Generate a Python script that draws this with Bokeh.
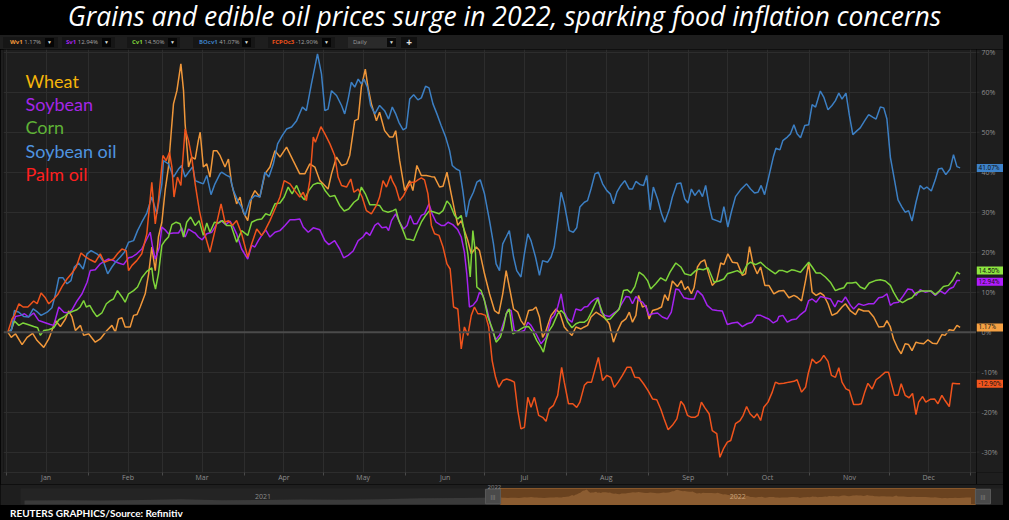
import pandas as pd
from bokeh.plotting import figure
from bokeh.models import (ColumnDataSource, Range1d, FixedTicker, DatetimeTickFormatter,
                          Span, Label, Div, Grid)
from bokeh.core.properties import value
from bokeh.layouts import column, row
from bokeh.embed import file_html
from bokeh.resources import INLINE

BASE = pd.Timestamp("2022-01-01")

# ---------------- data: (days since 2022-01-01, % change since start) ----------------
wheat = [(0.5,0.0),(1.8,-1.3),(3.4,-0.4),(5.9,-3.1),(7.8,-1.3),(9.9,-0.3),(11.6,-2.1),(14.1,-3.8),
 (16.0,-1.7),(17.2,0.4),(18.5,2.9),(20.4,1.4),(22.3,3.3),(23.5,5.3),(24.8,3.8),(26.1,0.4),(28.0,1.7),
 (29.2,-0.8),(31.1,-0.4),(33.6,-2.5),(35.5,-1.7),(38.0,0.4),(39.9,1.7),(41.2,0.0),(42.4,3.3),(43.7,3.6),
 (44.9,1.3),(46.8,1.3),(48.1,4.2),(49.4,4.4),(50.6,6.3),(52.5,9.6),(53.8,14.6),(55.0,21.3),(56.3,15.4),
 (57.5,23.8),(58.8,27.5),(60.1,35.8),(61.3,41.3),(62.2,48.8),(63.2,57.1),(64.5,60.4),(66.0,67.1),
 (67.0,60.4),(67.6,52.1),(68.9,41.3),(70.1,43.8),(71.4,43.3),(72.6,47.9),(73.3,50.0),(74.5,41.3),
 (75.8,42.1),(77.0,38.8),(78.3,45.4),(79.6,45.4),(80.8,44.2),(82.7,41.3),(84.0,43.3),(85.2,37.1),
 (87.1,32.1),(88.4,33.8),(89.6,30.0),(91.3,27.9),(92.8,33.8),(94.0,35.4),(95.9,33.8),(97.8,39.6),
 (99.7,41.3),(101.6,45.4),(103.5,43.8),(106.0,46.3),(108.5,42.9),(111.0,39.6),(112.9,39.6),(114.8,42.1),
 (116.7,41.3),(118.6,37.9),(119.8,37.1),(121.7,35.8),(123.0,39.6),(124.9,43.8),(126.8,41.7),(128.7,42.1),
 (129.9,44.2),(131.8,52.9),(133.1,53.3),(134.3,61.3),(135.8,65.8),(136.8,61.3),(138.1,57.1),(140.0,52.9),
 (141.2,55.0),(143.1,50.4),(145.0,48.8),(146.3,48.8),(147.3,50.4),(148.8,42.9),(150.7,35.4),(152.6,37.9),
 (153.8,35.4),(155.3,41.7),(157.0,39.2),(158.9,39.2),(160.8,38.9),(162.0,38.8),(163.9,36.3),(165.2,36.5),
 (166.7,40.0),(168.3,34.6),(169.6,30.4),(170.8,26.7),(172.1,27.9),(173.3,25.4),(174.6,22.9),(175.9,19.6),
 (177.8,21.3),(179.0,20.4),(180.9,14.6),(182.8,9.6),(184.7,5.4),(186.3,4.6),(187.8,9.6),(189.1,15.4),
 (190.3,11.3),(191.9,5.8),(193.5,5.0),(194.7,2.9),(196.0,1.7),(197.6,5.4),(199.2,5.6),(200.4,6.3),
 (201.7,3.8),(202.9,-1.3),(204.2,0.4),(206.1,4.2),(208.0,5.8),(209.5,4.6),(211.1,1.3),(212.8,0.0),
 (214.0,-0.8),(215.5,1.3),(217.4,0.8),(218.7,1.3),(219.9,1.7),(221.2,3.8),(223.1,5.0),(225.0,4.2),
 (226.8,3.3),(228.1,2.1),(229.7,-2.5),(231.3,0.4),(232.8,2.5),(234.4,3.3),(235.7,5.0),(236.9,2.5),
 (238.2,4.2),(239.2,9.2),(240.7,6.3),(242.0,6.7),(243.2,3.3),(244.5,5.4),(246.4,5.8),(247.9,6.3),
 (249.1,9.4),(250.4,7.9),(252.0,12.8),(253.9,11.4),(255.4,12.9),(256.7,10.6),(257.9,11.4),(259.2,9.6),
 (260.2,11.1),(261.5,16.3),(262.7,17.5),(264.2,18.1),(265.9,14.2),(267.1,11.7),(268.8,12.9),(270.3,17.3),
 (271.5,16.9),(273.0,19.6),(274.7,17.5),(276.6,17.3),(278.5,14.2),(279.7,14.6),(281.2,21.4),(282.5,17.1),
 (284.1,14.6),(285.4,16.3),(287.0,11.7),(288.5,11.7),(290.4,9.6),(292.3,10.3),(294.2,10.4),(296.1,8.6),
 (298.0,9.2),(299.2,8.8),(300.9,7.8),(302.4,12.9),(303.6,17.3),(304.9,10.0),(306.4,9.2),(308.0,9.8),
 (309.3,9.2),(310.9,7.1),(312.4,4.2),(314.3,4.8),(316.2,6.3),(317.5,7.1),(319.4,5.3),(321.3,4.4),
 (322.5,5.8),(324.4,5.3),(326.3,5.3),(328.2,3.8),(330.1,1.3),(332.0,1.4),(333.2,2.9),(334.5,1.3),
 (335.7,-1.7),(337.4,-4.2),(338.6,-5.4),(340.1,-2.9),(341.4,-3.1),(342.7,-4.6),(344.2,-2.5),(345.8,-2.8),
 (347.1,-2.9),(348.7,-1.9),(350.5,-2.8),(352.1,-2.9),(354.0,-0.6),(355.2,-0.8),(356.8,0.6),(358.4,0.4),
 (359.7,1.7),(360.9,1.2)]

soybean = [(0.5,0.0),(1.8,0.4),(3.4,3.9),(5.3,4.2),(6.8,4.6),(8.4,3.8),(10.3,4.8),(12.2,2.9),(14.1,2.5),
 (16.6,1.9),(17.9,1.7),(19.8,6.3),(21.7,5.0),(23.5,4.8),(24.8,5.6),(26.7,7.8),(28.6,9.6),(30.5,12.5),
 (31.7,15.4),(33.6,15.6),(35.5,17.1),(37.4,17.9),(38.6,18.3),(40.5,17.9),(42.4,17.3),(44.3,16.9),
 (46.2,18.6),(47.5,18.8),(49.3,19.6),(51.2,20.8),(53.1,23.3),(54.4,25.0),(55.3,21.3),(56.3,18.3),
 (57.9,21.3),(58.8,26.3),(60.0,25.6),(61.3,24.6),(63.2,24.8),(65.1,24.8),(66.3,26.1),(67.6,23.8),
 (68.9,25.8),(70.7,25.0),(71.4,24.8),(72.6,23.8),(74.1,23.1),(75.8,24.6),(77.7,25.0),(79.6,27.1),
 (81.2,27.9),(83.0,26.9),(84.6,27.8),(85.9,26.3),(87.1,24.6),(89.0,20.8),(91.3,18.3),(92.8,21.7),
 (94.0,21.3),(95.3,22.9),(96.6,24.2),(98.1,25.6),(99.7,23.8),(101.6,25.0),(103.5,25.4),(105.4,26.7),
 (107.3,28.1),(109.1,28.1),(111.0,28.3),(112.3,26.3),(114.2,25.0),(116.1,26.1),(118.6,25.6),(120.5,22.9),
 (122.0,21.9),(124.2,22.9),(126.1,20.8),(127.6,18.6),(129.3,19.2),(131.2,20.3),(133.1,22.9),(134.9,23.8),
 (136.2,25.0),(137.5,24.2),(139.4,26.7),(140.6,27.3),(142.1,26.1),(143.8,26.3),(144.6,25.4),(145.7,27.9),
 (147.3,29.6),(148.8,27.5),(150.3,25.8),(151.6,26.7),(152.8,29.2),(154.1,27.1),(155.3,27.1),(157.0,29.2),
 (158.2,29.6),(159.9,32.1),(161.1,29.6),(162.6,27.5),(164.5,26.7),(165.8,26.7),(167.1,27.5),(168.9,26.9),
 (170.8,25.6),(172.1,23.8),(173.3,20.0),(174.2,14.6),(175.2,6.3),(176.5,6.7),(178.0,7.9),(179.0,10.0),
 (180.3,9.2),(181.8,5.8),(183.4,1.3),(185.1,-1.9),(186.6,-0.8),(188.1,2.3),(189.7,5.6),(191.0,5.4),
 (192.2,0.4),(194.1,0.0),(196.0,0.4),(197.3,2.5),(198.5,1.7),(200.4,-0.4),(202.3,-2.9),(204.2,-1.3),
 (206.1,3.3),(207.3,4.2),(208.6,6.3),(209.9,9.6),(211.1,5.0),(212.4,3.3),(214.0,2.5),(215.5,5.8),
 (217.4,5.4),(218.7,6.3),(219.9,6.4),(221.2,7.5),(222.7,8.3),(224.0,8.6),(225.0,5.0),(226.5,4.2),
 (228.1,3.9),(230.0,4.8),(231.3,5.4),(232.8,7.1),(234.4,8.9),(235.7,8.8),(236.9,7.1),(238.2,8.9),
 (239.4,7.9),(240.7,7.5),(242.0,6.3),(243.2,4.2),(244.5,4.6),(246.4,4.8),(248.2,3.8),(250.1,3.3),
 (251.6,5.0),(253.3,10.8),(254.5,10.6),(256.4,8.6),(258.3,8.3),(260.2,8.3),(261.5,10.4),(263.4,9.2),
 (265.2,6.7),(267.1,5.6),(269.0,5.4),(270.9,5.3),(272.8,1.9),(274.7,2.3),(276.6,2.5),(278.5,1.4),
 (280.3,2.1),(282.2,2.5),(283.9,4.2),(285.4,4.2),(287.3,3.6),(288.5,3.3),(290.2,2.3),(291.7,2.9),
 (292.3,3.9),(293.8,4.2),(295.5,2.5),(297.1,3.1),(298.9,3.3),(300.5,4.4),(302.4,5.4),(303.6,7.9),
 (304.9,8.3),(306.4,7.5),(308.0,8.9),(309.9,8.6),(311.8,8.3),(313.5,6.3),(314.7,7.9),(316.2,7.5),
 (317.5,8.8),(319.4,6.7),(320.6,5.8),(322.5,7.1),(324.4,6.7),(326.3,7.1),(328.2,7.1),(330.1,8.6),
 (331.6,8.8),(333.2,9.6),(334.5,6.7),(335.7,7.3),(337.6,7.5),(339.5,9.2),(341.1,10.8),(342.7,10.6),
 (344.2,9.2),(345.8,10.6),(347.7,10.0),(349.6,10.3),(351.5,9.2),(353.4,10.3),(355.2,9.6),(356.8,10.8),
 (358.4,11.3),(359.7,12.9),(360.9,12.9)]

corn = [(0.5,0.0),(1.8,0.6),(3.0,2.8),(4.7,1.7),(6.3,2.3),(8.1,1.9),(10.3,1.4),(11.8,1.1),(12.8,-0.8),
 (14.1,0.4),(16.0,0.6),(17.9,1.1),(19.8,3.1),(21.7,3.8),(23.5,4.8),(25.4,5.3),(26.7,5.6),(27.9,6.3),
 (29.2,7.9),(30.2,6.3),(31.5,6.7),(32.7,5.3),(34.2,3.9),(36.1,4.8),(37.8,7.1),(39.3,7.9),(40.5,8.3),
 (42.0,10.4),(43.7,8.8),(44.9,7.5),(46.2,9.6),(48.1,10.4),(49.6,11.3),(51.2,13.6),(53.1,15.2),(55.0,16.1),
 (55.6,12.9),(56.4,10.8),(57.5,14.6),(58.8,21.7),(60.0,22.9),(61.3,23.8),(62.6,26.9),(64.2,27.5),
 (65.7,27.1),(67.0,23.8),(68.2,27.5),(69.7,28.8),(71.4,26.7),(72.9,27.9),(74.5,24.2),(75.8,27.3),
 (77.0,25.0),(78.7,27.5),(80.2,27.3),(81.7,27.9),(83.3,26.7),(85.0,26.7),(87.1,22.5),(89.0,25.4),
 (91.3,24.2),(92.8,27.5),(94.7,28.1),(96.6,28.3),(98.1,29.6),(99.7,29.2),(101.6,32.1),(103.5,32.3),
 (105.1,33.8),(106.6,36.3),(108.1,34.6),(109.8,36.7),(111.4,34.2),(112.7,33.1),(114.4,35.4),(116.1,36.9),
 (117.7,37.3),(119.2,37.1),(120.7,35.3),(122.4,33.9),(124.2,34.2),(126.1,31.7),(127.8,30.3),(129.5,30.8),
 (131.5,32.5),(133.1,33.3),(134.3,36.3),(135.8,34.6),(137.5,31.9),(139.4,31.9),(141.2,31.7),(142.5,30.4),
 (144.4,30.0),(146.3,30.4),(147.3,30.8),(148.5,27.9),(150.1,25.4),(151.3,23.3),(152.8,23.2),(154.1,22.9),
 (155.3,25.0),(157.0,27.5),(158.6,29.2),(160.1,30.4),(162.0,30.0),(163.7,29.6),(165.2,30.4),(166.7,32.8),
 (167.9,31.9),(169.6,29.2),(170.8,28.3),(172.1,29.2),(173.3,25.0),(174.6,19.6),(175.5,13.8),(176.5,25.4),
 (177.5,19.6),(178.0,11.3),(179.6,10.4),(180.9,7.9),(182.2,3.8),(184.1,0.4),(185.3,-2.5),(186.9,-1.3),
 (188.1,1.3),(189.1,4.6),(190.3,5.8),(191.6,-0.4),(192.9,0.0),(194.7,0.8),(196.0,1.3),(197.6,1.4),
 (199.2,0.0),(200.7,-2.1),(202.3,-3.8),(203.2,-5.0),(204.2,-2.1),(205.4,0.4),(206.7,1.7),(208.6,4.6),
 (209.9,5.4),(211.1,4.6),(212.4,2.5),(214.0,1.1),(215.5,2.1),(217.0,2.5),(218.7,2.5),(219.9,3.1),
 (221.4,5.0),(223.7,8.3),(225.6,4.8),(226.8,3.1),(228.5,3.3),(230.2,4.6),(231.9,5.8),(233.5,10.4),
 (235.0,10.6),(236.3,9.8),(237.8,11.4),(239.4,15.0),(241.1,14.2),(242.6,12.9),(243.8,10.8),(245.7,12.1),
 (247.6,13.6),(249.5,12.8),(251.1,15.0),(253.3,17.3),(255.2,16.3),(256.7,14.6),(258.9,14.2),(260.8,15.4),
 (262.1,15.8),(263.7,15.6),(265.5,16.1),(267.8,12.5),(269.6,12.8),(271.5,13.3),(272.8,14.6),(274.7,15.0),
 (276.6,15.4),(278.5,14.6),(280.3,16.9),(281.6,17.5),(283.5,16.9),(285.4,17.5),(287.3,16.3),(289.2,15.4),
 (291.0,14.6),(292.3,15.4),(293.8,15.4),(295.5,15.0),(297.1,15.6),(298.6,15.4),(300.5,15.0),(302.1,16.3),
 (303.6,17.5),(304.9,16.3),(306.4,14.8),(308.0,14.8),(309.9,13.8),(311.8,12.5),(313.7,10.4),(315.2,10.8),
 (316.9,11.1),(318.1,12.3),(320.0,12.3),(321.5,12.5),(323.1,11.3),(324.8,10.8),(326.5,12.3),(328.8,12.9),
 (330.7,13.1),(332.6,12.8),(334.5,11.7),(335.7,10.0),(337.4,8.1),(339.1,7.4),(340.8,8.1),(342.7,8.6),
 (344.2,9.8),(346.2,10.3),(347.9,10.3),(350.0,10.3),(351.5,9.4),(353.0,10.3),(354.6,11.4),(356.5,11.7),
 (358.0,12.9),(359.7,15.0),(360.9,14.5)]

soybean_oil = [(0.5,0.0),(1.8,0.4),(3.0,5.4),(4.7,5.0),(6.5,3.9),(8.4,3.8),(10.1,5.8),(11.8,5.0),
 (13.1,4.2),(15.4,5.0),(17.2,6.1),(18.5,9.4),(19.8,13.6),(21.4,13.6),(22.9,12.1),(24.4,12.9),(25.7,16.3),
 (27.3,17.3),(29.0,15.8),(30.5,19.6),(32.0,20.4),(34.2,19.6),(35.5,18.8),(36.8,17.5),(38.3,14.6),
 (39.9,16.3),(41.2,17.5),(43.1,18.8),(44.6,20.0),(46.2,22.5),(48.1,22.9),(49.6,25.4),(51.2,27.5),
 (53.1,29.8),(55.0,33.8),(56.9,29.6),(58.8,37.1),(59.4,42.9),(61.3,42.1),(63.2,38.8),(65.1,40.8),
 (66.3,41.7),(67.6,38.8),(68.9,40.0),(70.5,41.4),(71.4,37.9),(72.9,37.5),(74.5,37.1),(75.8,39.2),
 (77.4,34.4),(78.9,37.1),(80.8,39.6),(81.4,40.0),(83.3,39.2),(84.6,38.8),(85.9,35.4),(87.5,32.9),
 (89.0,31.3),(90.3,29.2),(92.1,32.9),(94.0,34.2),(95.9,33.8),(97.8,40.0),(99.3,38.8),(101.0,42.1),
 (102.6,47.1),(104.4,49.2),(106.0,50.8),(107.9,51.3),(109.8,52.9),(112.0,56.3),(113.5,55.4),(115.4,62.1),
 (117.7,69.6),(119.2,64.6),(120.5,55.4),(121.7,55.8),(123.0,60.4),(124.9,59.2),(126.8,56.7),(128.0,54.6),
 (129.3,58.3),(130.5,62.5),(131.8,61.3),(133.1,63.3),(134.3,62.1),(135.3,63.3),(136.6,61.3),(137.8,56.7),
 (139.4,54.6),(141.2,56.7),(143.1,55.4),(144.6,53.3),(146.0,56.3),(147.3,54.6),(148.5,52.5),(150.1,50.6),
 (151.3,51.1),(152.6,58.3),(154.1,59.4),(155.7,58.1),(157.0,58.6),(158.6,61.5),(159.9,61.1),(161.4,57.1),
 (162.9,54.6),(164.5,51.7),(166.2,48.8),(167.7,45.4),(168.7,41.7),(170.2,40.8),(171.5,40.4),(172.7,35.4),
 (174.0,28.8),(175.2,32.9),(176.7,35.0),(178.0,37.5),(179.3,38.1),(180.9,34.6),(182.8,27.9),(184.3,22.1),
 (185.3,17.1),(186.6,15.4),(187.8,22.1),(189.1,23.8),(190.3,25.4),(191.9,18.8),(193.1,15.4),(194.7,13.8),
 (196.0,19.6),(197.3,24.6),(198.5,22.9),(200.2,18.8),(201.7,14.2),(202.9,17.9),(204.8,17.5),(206.1,18.8),
 (207.3,21.3),(208.6,27.9),(209.9,35.0),(211.1,32.1),(213.0,25.4),(214.5,25.0),(215.8,26.1),(217.0,31.3),
 (218.7,32.5),(219.9,32.9),(221.2,35.8),(222.7,39.6),(224.0,40.0),(225.6,37.1),(227.2,35.4),(228.5,34.6),
 (229.7,32.1),(231.0,35.0),(232.5,36.7),(234.0,37.9),(235.7,35.8),(236.9,35.8),(238.2,37.7),(239.8,36.9),
 (241.1,36.7),(242.3,39.2),(243.6,30.6),(244.8,36.3),(246.4,33.3),(247.9,29.6),(249.1,27.5),(250.8,30.6),
 (252.0,33.8),(253.7,37.1),(255.2,37.3),(256.7,33.3),(257.9,32.3),(259.2,35.8),(260.5,34.2),(262.1,35.6),
 (263.4,33.9),(264.6,36.7),(265.9,31.7),(267.1,28.3),(268.8,27.9),(270.3,27.5),(271.5,31.4),(273.0,26.3),
 (274.3,30.0),(275.9,33.9),(277.8,35.6),(280.1,37.1),(281.6,35.8),(283.1,34.8),(284.4,35.0),(285.6,36.7),
 (286.9,34.4),(288.5,38.9),(290.2,43.8),(291.2,46.0),(292.7,45.6),(293.8,47.9),(295.5,48.8),(296.7,49.6),
 (298.0,51.9),(299.2,49.6),(300.5,48.6),(302.1,51.7),(303.6,51.9),(304.9,56.9),(306.2,56.3),(308.0,60.3),
 (309.3,58.8),(310.9,55.6),(312.4,56.7),(313.7,57.9),(315.0,59.8),(316.2,58.3),(317.7,59.8),(319.0,54.2),
 (320.3,49.4),(321.9,50.4),(323.1,51.1),(324.8,52.9),(326.3,54.4),(327.8,53.8),(329.1,53.3),(330.7,56.3),
 (332.0,56.1),(333.2,53.3),(334.5,43.8),(336.1,37.9),(337.4,33.1),(338.9,31.3),(340.1,30.0),(341.4,30.4),
 (342.7,27.8),(344.2,32.5),(345.8,36.7),(347.1,35.8),(348.3,36.3),(350.0,35.3),(351.5,38.1),(352.7,40.8),
 (354.0,41.0),(355.5,39.4),(357.1,40.8),(358.4,44.4),(359.7,41.4),(360.9,41.1)]

palm_oil = [(0.5,0.0),(2.1,3.3),(3.0,4.2),(4.7,7.1),(6.3,6.3),(8.1,6.3),(10.3,7.8),(11.6,7.1),(13.1,9.8),
 (14.7,8.6),(16.0,7.1),(17.9,8.3),(19.4,9.4),(21.0,11.4),(22.9,13.3),(24.8,14.8),(26.4,16.3),(28.2,19.8),
 (29.8,18.9),(31.7,18.1),(33.6,17.5),(35.5,19.6),(37.0,17.5),(38.6,17.9),(40.5,18.3),(42.0,19.6),
 (43.7,20.8),(45.3,20.4),(46.2,15.4),(47.5,16.7),(49.3,17.9),(51.2,19.6),(53.1,24.6),(55.0,37.5),
 (56.3,27.1),(57.5,32.9),(59.2,44.2),(60.4,42.9),(61.7,45.0),(62.6,41.3),(63.4,33.8),(64.7,38.8),
 (66.0,36.7),(67.6,50.8),(68.9,47.9),(70.1,43.8),(71.4,37.1),(73.0,30.4),(74.5,25.8),(77.0,20.0),
 (78.9,25.4),(81.2,32.1),(82.7,27.5),(84.0,27.9),(85.5,26.7),(87.1,27.9),(89.0,24.6),(91.3,18.8),
 (92.8,22.1),(94.7,25.8),(96.6,24.2),(97.8,25.4),(99.7,27.9),(101.6,30.8),(103.5,33.8),(105.1,37.9),
 (107.3,37.1),(109.1,35.4),(111.0,33.8),(112.3,35.0),(113.5,32.9),(114.8,37.9),(116.1,48.8),(116.9,47.5),
 (119.0,51.4),(120.5,49.6),(122.4,47.1),(124.2,44.2),(125.5,38.8),(126.8,36.7),(128.7,36.3),(130.3,38.3),
 (131.5,35.0),(133.1,35.8),(134.6,33.8),(136.2,30.4),(138.1,29.6),(140.0,31.7),(141.2,33.8),(142.5,37.9),
 (143.8,36.3),(145.4,39.2),(146.0,37.9),(147.3,36.3),(148.8,32.9),(150.3,34.2),(151.9,36.3),(153.2,37.5),
 (154.5,37.5),(155.7,38.1),(157.0,38.6),(158.2,38.1),(159.5,34.6),(160.8,26.7),(162.0,24.6),(163.7,24.2),
 (165.2,21.3),(166.7,17.1),(167.9,15.8),(169.2,6.3),(170.8,5.8),(172.1,-4.2),(173.3,1.3),(174.6,-0.8),
 (175.9,4.2),(177.1,6.3),(178.4,4.6),(179.6,4.6),(181.3,4.2),(182.5,1.3),(183.8,-7.1),(185.1,-11.3),
 (186.3,-13.8),(187.8,-12.1),(189.3,-11.7),(191.0,-12.1),(192.2,-12.5),(193.5,-19.6),(194.7,-24.2),
 (196.0,-23.8),(197.3,-16.3),(198.5,-18.8),(199.8,-16.3),(201.4,-20.8),(202.9,-21.3),(204.2,-22.3),
 (205.4,-19.2),(207.0,-18.3),(208.6,-15.8),(210.1,-8.8),(211.1,-12.5),(212.7,-17.9),(214.3,-17.9),
 (215.8,-18.8),(217.0,-17.5),(218.7,-13.3),(219.9,-12.5),(221.4,-12.5),(224.0,-6.3),(225.6,-12.1),
 (227.2,-10.8),(228.7,-11.3),(230.0,-13.8),(231.5,-12.5),(233.1,-10.8),(234.8,-8.8),(236.3,-8.8),
 (237.8,-11.3),(239.4,-11.4),(241.1,-12.9),(242.8,-14.6),(244.5,-16.7),(246.1,-16.9),(247.6,-19.2),
 (248.9,-21.7),(250.4,-24.4),(252.0,-23.3),(253.7,-21.7),(255.2,-17.3),(256.4,-18.3),(257.7,-20.8),
 (259.2,-21.3),(260.5,-21.3),(261.7,-20.8),(263.0,-17.5),(264.2,-18.8),(265.9,-20.4),(267.1,-24.6),
 (268.8,-25.4),(270.0,-31.3),(271.3,-29.2),(272.8,-27.5),(274.1,-27.1),(275.9,-22.9),(277.6,-22.1),
 (278.8,-20.8),(280.1,-18.6),(281.4,-20.4),(282.9,-21.4),(284.1,-20.4),(285.4,-22.1),(286.6,-18.8),
 (288.2,-17.5),(289.8,-15.0),(291.0,-12.5),(292.3,-12.9),(294.2,-12.8),(296.1,-12.5),(298.0,-12.3),
 (299.2,-11.9),(300.9,-15.0),(302.4,-13.8),(303.4,-10.4),(304.9,-6.7),(306.4,-7.8),(308.0,-7.1),
 (309.3,-5.8),(310.9,-7.3),(312.2,-10.8),(313.7,-11.3),(315.0,-8.9),(316.2,-12.5),(317.7,-14.2),
 (319.0,-14.6),(320.6,-18.1),(322.5,-18.1),(323.5,-17.9),(324.8,-15.0),(326.0,-12.8),(327.6,-14.2),
 (329.1,-11.9),(330.7,-11.1),(332.6,-10.0),(333.8,-10.0),(335.1,-13.3),(336.1,-15.8),(337.4,-15.8),
 (338.6,-12.9),(340.1,-15.8),(341.6,-16.4),(342.9,-15.3),(344.2,-20.6),(345.2,-17.5),(346.7,-16.1),
 (347.9,-17.5),(349.6,-16.8),(351.2,-16.7),(352.5,-17.9),(354.0,-15.8),(355.2,-17.1),(356.8,-18.6),
 (358.0,-12.8),(359.7,-12.9),(360.9,-12.9)]

# navigator: 2021 part of the wheat sparkline (% vs end-2021), days since 2022-01-01
wheat_2021 = [(-365,-24),(-335,-22),(-306,-25),(-275,-20),(-245,-14),(-214,-22),(-184,-20),
 (-153,-17),(-122,-19),(-92,-14),(-61,-6),(-31,-4),(0,0)]

series_names = ["Wheat", "Soybean", "Corn", "Soybean oil", "Palm oil"]
series_data = [wheat, soybean, corn, soybean_oil, palm_oil]
tickers = ["Wv1", "Sv1", "Cv1", "BOcv1", "FCPOc3"]
last_labels = ["1.17%", "12.94%", "14.50%", "41.07%", "-12.90%"]
line_colors = ["#f0973a", "#a523f0", "#7ed43a", "#3c7fc3", "#f0531c"]
tag_colors = ["#f5a143", "#b01cff", "#8ee640", "#3d82c9", "#f2561e"]
legend_colors = ["#f5b50a", "#a526e8", "#5fb236", "#4f94e0", "#ff1f1f"]
y_ticks = [-30, -20, -10, 0, 10, 20, 30, 40, 50, 60, 70]

TITLE = "Grains and edible oil prices surge in 2022, sparking food inflation concerns"
SOURCE = "REUTERS GRAPHICS/Source: Refinitiv"


def when(d):
    return (BASE + pd.Timedelta(days=d)).to_pydatetime()


def ms(d):
    return (BASE + pd.Timedelta(days=d)).value / 1e6


GRID = "#2d2d2d"
PANEL = "#1e1e1e"
AXTXT = "#8e8e8e"
Y0, Y1 = -35.1, 70.7

# ---------------- title ----------------
title_div = Div(
    text=(f'<div style="width:1009px;height:35px;line-height:33px;text-align:center;color:#ffffff;'
          f'font-family:\'Open Sans\',sans-serif;font-style:italic;font-size:26.5px;white-space:nowrap;">{TITLE}</div>'),
    width=1009, height=35, styles={"background-color": "#000000", "margin": "0"})

# ---------------- chip strip ----------------
chip_boxes = [(3, 55, 10, 45), (62, 53, 66, 102), (127, 53, 132, 168), (193, 62, 199, 242), (268, 67, 272, 322)]
parts = []
for (bx, bw, tx, btn), tk, col, val in zip(chip_boxes, tickers, line_colors, last_labels):
    parts.append(f'<div style="position:absolute;left:{bx}px;top:2px;width:{bw}px;height:11px;background:#161616;"></div>')
    parts.append(f'<div style="position:absolute;left:{tx}px;top:2px;height:11px;line-height:11px;font-size:6px;'
                 f'white-space:nowrap;"><b style="color:{col}">{tk}</b> <span style="color:#a5a5a5">{val}</span></div>')
    parts.append(f'<div style="position:absolute;left:{btn}px;top:3px;width:9px;height:9px;background:#050505;'
                 f'color:#dddddd;font-size:5px;line-height:9px;text-align:center;">&#9660;</div>')
parts.append('<div style="position:absolute;left:348px;top:2px;width:48px;height:11px;background:#2a2a2a;"></div>')
parts.append('<div style="position:absolute;left:353px;top:2px;line-height:11px;font-size:6px;color:#9a9a9a;">Daily</div>')
parts.append('<div style="position:absolute;left:387px;top:3px;width:9px;height:9px;background:#0a0a0a;color:#ddd;'
             'font-size:5px;line-height:9px;text-align:center;">&#9660;</div>')
parts.append('<div style="position:absolute;left:401px;top:2px;width:16px;height:11px;background:#101010;color:#e0e0e0;'
             'font-size:10px;font-weight:bold;line-height:11px;text-align:center;">+</div>')
chips_div = Div(
    text=(f'<div style="position:relative;width:1003px;height:14px;background:{PANEL};'
          f'font-family:\'Open Sans\',sans-serif;">' + "".join(parts) + '</div>'),
    width=1003, height=14, styles={"margin": "0"})

# ---------------- main chart ----------------
p = figure(width=976, height=435, x_axis_type="datetime", y_axis_location=None,
           toolbar_location=None, output_backend="svg",
           x_range=Range1d(when(-1.13), when(367.1)), y_range=Range1d(Y0, Y1),
           min_border_left=3, min_border_right=0, min_border_top=0, min_border_bottom=12,
           background_fill_color=PANEL, border_fill_color=PANEL, outline_line_color=None)

major_x = [ms((pd.Timestamp(2022, m, 16) - BASE).days) for m in range(1, 13)]
minor_x = [ms((pd.Timestamp(2022, m, 1) - BASE).days) for m in range(1, 13)] + [ms(365)]
xticker = FixedTicker(ticks=major_x, minor_ticks=minor_x)
p.xaxis.ticker = xticker
p.xgrid.ticker = xticker
p.xaxis.formatter = DatetimeTickFormatter(days="%b", months="%b", years="%b")
p.xaxis.major_tick_line_color = None
p.xaxis.major_tick_out = 0
p.xaxis.major_tick_in = 0
p.xaxis.minor_tick_line_color = "#4a4a4a"
p.xaxis.minor_tick_in = 0
p.xaxis.minor_tick_out = 3
p.xaxis.major_label_standoff = -3
p.xaxis.axis_label_standoff = 0
p.xaxis.axis_line_color = GRID
p.xaxis.major_label_text_font = "Open Sans"
p.xaxis.major_label_text_font_size = "7px"
p.xaxis.major_label_text_color = AXTXT
p.xgrid.grid_line_color = GRID
p.xgrid.minor_grid_line_color = GRID

yticker = FixedTicker(ticks=y_ticks)
if len(p.ygrid) == 0:
    p.add_layout(Grid(dimension=1, ticker=yticker, grid_line_color=GRID))
else:
    p.ygrid.ticker = yticker
    p.ygrid.grid_line_color = GRID

p.add_layout(Span(location=0, dimension="width", line_color="#4b4b4b", line_width=2))

for name, data, col in zip(series_names, series_data, line_colors):
    days, vals = zip(*data)
    src = ColumnDataSource(dict(x=[when(d) for d in days], y=list(vals)))
    p.line("x", "y", source=src, line_color=col, line_width=1.5)

# legend as coloured text
for i, (name, col) in enumerate(zip(series_names, legend_colors)):
    p.add_layout(Label(x=ms(7.2), y=62.9 - i * 5.85, text=name, text_color=col, text_font="Lato",
                       text_font_size="18px", text_baseline="middle", text_align="left"))

# ---------------- right value scale with last-value tags ----------------
side = figure(width=27, height=435, x_range=Range1d(0, 27), y_range=p.y_range,
              x_axis_location=None, y_axis_location=None, toolbar_location=None, output_backend="svg",
              min_border_left=0, min_border_right=0, min_border_top=0, min_border_bottom=12,
              background_fill_color=PANEL, border_fill_color=PANEL, outline_line_color=None)
side.grid.visible = False
tick_src = ColumnDataSource(dict(x0=[0] * len(y_ticks), x1=[3] * len(y_ticks), xt=[5] * len(y_ticks),
                                 y=y_ticks, t=[f"{t}%" for t in y_ticks]))
side.segment(x0="x0", x1="x1", y0="y", y1="y", source=tick_src, line_color=GRID)
side.text(x="xt", y="y", text="t", source=tick_src, text_font=value("Open Sans"), text_font_size="7px",
          text_color=AXTXT, text_baseline="middle", text_align="left")

tag_vals = [float(s.rstrip("%")) for s in last_labels]
tag_nudge = [0.0, -0.3, 0.9, 0.0, 0.0]
tag_y = [v + n for v, n in zip(tag_vals, tag_nudge)]
tag_src = ColumnDataSource(dict(l=[0] * 5, r=[27] * 5, b=[v - 1.0 for v in tag_y], t=[v + 1.0 for v in tag_y],
                                y=tag_y, x=[2] * 5, lab=last_labels, c=tag_colors))
side.quad(left="l", right="r", bottom="b", top="t", fill_color="c", line_color=None, source=tag_src)
side.text(x="x", y="y", text="lab", source=tag_src, text_font=value("Roboto"), text_font_size="6.5px",
          text_color="#141414", text_baseline="middle", text_align="left")

# ---------------- navigator ----------------
nav = figure(width=1003, height=21, x_axis_type="datetime", x_axis_location=None, y_axis_location=None,
             toolbar_location=None, output_backend="svg",
             x_range=Range1d(when(-383.4), when(385.8)), y_range=Range1d(-66.4, 110.1),
             min_border=0, min_border_left=0, min_border_right=0, min_border_top=0, min_border_bottom=0,
             background_fill_color=PANEL, border_fill_color=PANEL, outline_line_color=None)
nav.grid.visible = False
nav.quad(left=[when(-368)], right=[when(385.8)], bottom=[-58], top=[76.5], fill_color="#242424", line_color=None)
d21, v21 = zip(*wheat_2021)
nav.varea(x=[when(d) for d in d21], y1=[-58] * len(d21), y2=list(v21), fill_color="#3a3a3a")
nav.quad(left=[when(0)], right=[when(364.3)], bottom=[-58], top=[76.5], fill_color="#6a421f",
         line_color="#8a5a2c", line_width=1)
wd, wv = zip(*wheat)
nav.varea(x=[when(d) for d in wd], y1=[-58] * len(wd), y2=list(wv), fill_color="#8b5c31")
for lo, hi in [(-11.5, 0), (364.3, 375.8)]:
    nav.quad(left=[when(lo)], right=[when(hi)], bottom=[-52], top=[70], fill_color="#4a4a4a", line_color="#5a5a5a")
    nav.add_layout(Label(x=ms((lo + hi) / 2), y=9, text="|||", text_color="#8a8a8a", text_font_size="6px",
                         text_align="center", text_baseline="middle"))
nav.add_layout(Label(x=ms(-182), y=9, text="2021", text_color="#8a8a8a", text_font="Open Sans",
                     text_font_size="7px", text_align="center", text_baseline="middle"))
nav.add_layout(Label(x=ms(182), y=9, text="2022", text_color="#c9a27a", text_font="Open Sans",
                     text_font_size="7px", text_align="center", text_baseline="middle"))
nav.add_layout(Label(x=ms(-4.6), y=93, text="2022", text_color=AXTXT, text_font="Open Sans",
                     text_font_size="6px", text_align="center", text_baseline="middle"))

# ---------------- footer ----------------
footer_div = Div(
    text=(f'<div style="width:1009px;height:15px;line-height:15px;padding-left:10px;color:#ffffff;'
          f'font-family:Lato,sans-serif;font-size:10px;font-weight:bold;white-space:nowrap;">{SOURCE}</div>'),
    width=1009, height=15, styles={"background-color": "#000000", "margin": "0"})

layout = column(title_div, chips_div, row(p, side, spacing=0), nav, footer_div, spacing=0,
                styles={"background-color": "#000000"})

open("out.html", "w").write(file_html(layout, INLINE))
